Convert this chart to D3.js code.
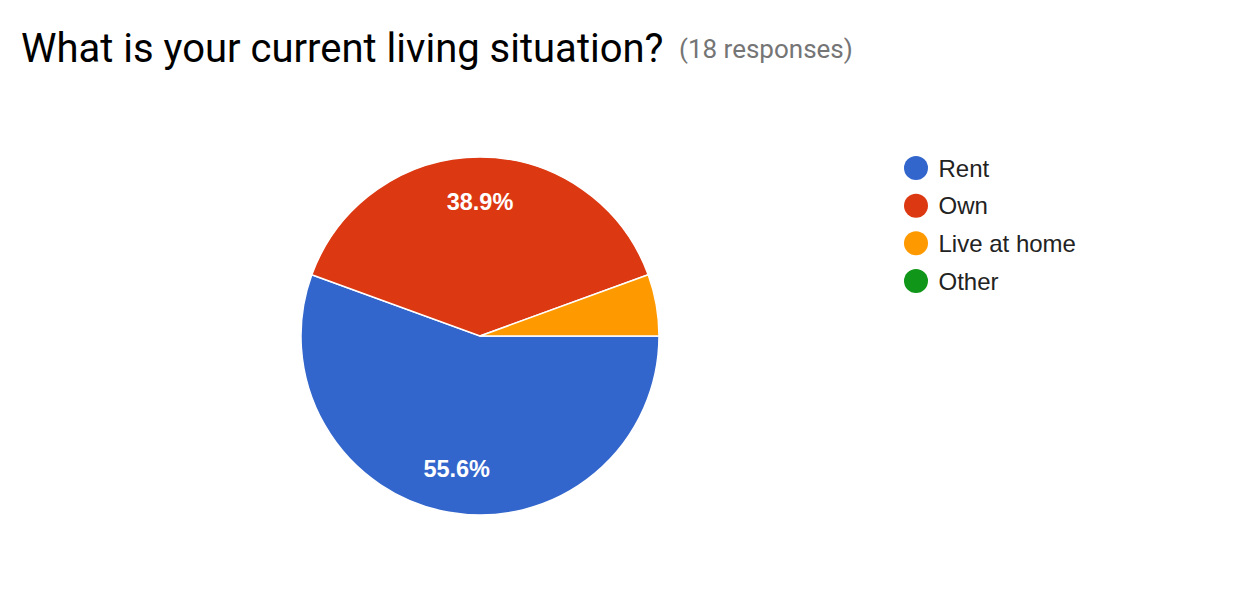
<!DOCTYPE html>
<html><head><meta charset="utf-8">
<script src="https://cdn.jsdelivr.net/npm/d3@7"></script>
<style>body{margin:0;background:#fff}svg{display:block}</style>
</head><body>
<svg id="chart" width="1244" height="594"></svg>
<script>
const categories = ["Rent", "Own", "Live at home", "Other"];
const counts = [10, 7, 1, 0];
const colors = ["#3366cc", "#dc3912", "#ff9900", "#109618"];
const titleText = "What is your current living situation?";
const subtitleText = "(18 responses)";

const svg = d3.select("#chart");
const W = 1244, H = 594;
svg.append("rect").attr("width", W).attr("height", H).attr("fill", "#fff");

svg.append("text").attr("x", 21).attr("y", 62)
  .attr("font-family", "Roboto, sans-serif").attr("font-size", 40)
  .attr("fill", "#000").text(titleText);
svg.append("text").attr("x", 679).attr("y", 58)
  .attr("font-family", "Roboto, sans-serif").attr("font-size", 26)
  .attr("fill", "#757575").text(subtitleText);

const cx = 480, cy = 336, r = 179;
const total = d3.sum(counts);
const data = categories.map((c, i) => ({cat: c, value: counts[i], color: colors[i]}));
const pie = d3.pie().value(d => d.value).sort(null)
  .startAngle(Math.PI / 2).endAngle(Math.PI / 2 + 2 * Math.PI);
const arcs = pie(data);
const arc = d3.arc().innerRadius(0).outerRadius(r);
const g = svg.append("g").attr("transform", `translate(${cx},${cy})`);
g.selectAll("path").data(arcs.filter(a => a.value > 0)).join("path")
  .attr("d", arc).attr("fill", d => d.data.color)
  .attr("stroke", "#fff").attr("stroke-width", 1.5);

const labelArc = d3.arc().innerRadius(r * 0.75).outerRadius(r * 0.75);
g.selectAll("text.lbl").data(arcs.filter(a => a.value / total > 0.1)).join("text")
  .attr("class", "lbl")
  .attr("transform", d => `translate(${labelArc.centroid(d)})`)
  .attr("text-anchor", "middle").attr("dy", "0.36em")
  .attr("font-family", "Liberation Sans, Arial, sans-serif").attr("font-weight", "bold")
  .attr("font-size", 23.5).attr("fill", "#fff")
  .text(d => (d.value / total * 100).toFixed(1) + "%");

const leg = svg.append("g");
const ly = d3.scalePoint().domain(categories).range([168, 281]);
const items = leg.selectAll("g").data(data).join("g")
  .attr("transform", d => `translate(916,${ly(d.cat)})`);
items.append("circle").attr("r", 12).attr("fill", d => d.color);
items.append("text").attr("x", 22.5).attr("dy", "0.36em")
  .attr("font-family", "Liberation Sans, Arial, sans-serif").attr("font-size", 24)
  .attr("fill", "#222").text(d => d.cat);
</script>
</body></html>
